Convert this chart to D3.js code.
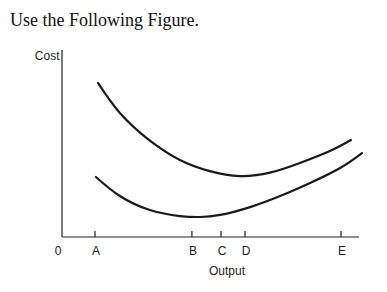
<!DOCTYPE html>
<html>
<head>
<meta charset="utf-8">
<script src="https://cdn.jsdelivr.net/npm/d3@7"></script>
<style>
  body { margin: 0; background: #fff; }
  svg { display: block; }
</style>
</head>
<body>
<div id="chart"></div>
<script>
// Output ticks (position on a 0-100 output scale)
var TickLabels = ["A", "B", "C", "D", "E"];
var TickValues = [11, 43.3, 53, 61, 93];
// Upper cost curve
var UpperOutput = [12, 19.3, 29.3, 39.3, 49.3, 59.3, 69.3, 79.3, 89.3, 96.3];
var UpperCost = [82.4, 66.3, 51.5, 41.2, 35.2, 32.6, 34.4, 39.6, 46, 51.9];
// Lower cost curve
var LowerOutput = [11.3, 19.3, 29.3, 39.3, 46, 52.7, 62.7, 72.7, 82.7, 92.7, 100];
var LowerCost = [32.1, 21.9, 14.4, 11.2, 10.7, 11.8, 16, 21.9, 28.9, 36.9, 44.9];

var Width = 387, Height = 292;
var SVG = d3.select("#chart").append("svg")
    .attr("width", Width)
    .attr("height", Height);

// Title
SVG.append("text")
    .attr("x", 10)
    .attr("y", 26)
    .attr("font-family", "'Liberation Serif', 'Times New Roman', serif")
    .attr("font-size", 18)
    .attr("fill", "#111")
    .text("Use the Following Figure.");

// Scales
var X = d3.scaleLinear().domain([0, 100]).range([62, 362]);
var Y = d3.scaleLinear().domain([0, 100]).range([237, 50]);

// Axes
var Axis = SVG.append("g").attr("stroke", "#222").attr("stroke-width", 1.2);
Axis.append("line")
    .attr("x1", X(0)).attr("x2", X(99))
    .attr("y1", Y(0)).attr("y2", Y(0));
Axis.append("line")
    .attr("x1", X(0)).attr("x2", X(0))
    .attr("y1", Y(0)).attr("y2", Y(100));
Axis.selectAll(".tick")
    .data(TickValues)
    .enter()
    .append("line")
    .attr("x1", (Value) => X(Value)).attr("x2", (Value) => X(Value))
    .attr("y1", Y(0)).attr("y2", Y(0) - 6);

// Labels
var Labels = SVG.append("g")
    .attr("font-family", "'Liberation Sans', Arial, sans-serif")
    .attr("font-size", 12)
    .attr("fill", "#222");
Labels.selectAll(".label")
    .data(TickLabels)
    .enter()
    .append("text")
    .attr("x", (Label, Index) => X(TickValues[Index]) + 1)
    .attr("y", 255)
    .attr("text-anchor", "middle")
    .text((Label) => Label);
Labels.append("text")
    .attr("x", X(0) - 4)
    .attr("y", 255)
    .attr("text-anchor", "middle")
    .text("0");
Labels.append("text")
    .attr("x", 227)
    .attr("y", 275)
    .attr("text-anchor", "middle")
    .text("Output");
Labels.append("text")
    .attr("x", X(0) - 2.5)
    .attr("y", 60)
    .attr("text-anchor", "end")
    .text("Cost");

// Curves
var Line = d3.line()
    .x((Point) => X(Point[0]))
    .y((Point) => Y(Point[1]))
    .curve(d3.curveNatural);
[[UpperOutput, UpperCost], [LowerOutput, LowerCost]].forEach(([Outputs, Costs]) => {
    SVG.append("path")
        .datum(Outputs.map((Output, Index) => [Output, Costs[Index]]))
        .attr("d", Line)
        .attr("fill", "none")
        .attr("stroke", "#1a1a1a")
        .attr("stroke-width", 2.2)
        .attr("stroke-linecap", "round");
});
</script>
</body>
</html>
